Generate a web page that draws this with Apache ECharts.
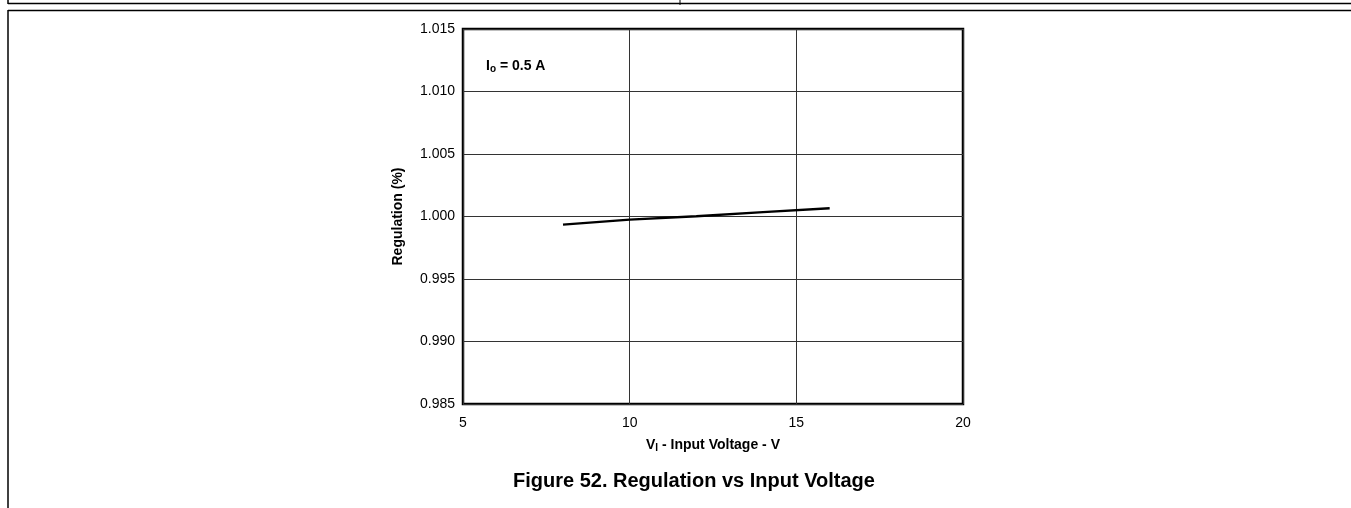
<!DOCTYPE html>
<html>
<head>
<meta charset="utf-8">
<script src="https://cdn.jsdelivr.net/npm/echarts@6/dist/echarts.min.js"></script>
<style>
html,body{margin:0;padding:0;background:#fff;}
#chart{width:1351px;height:508px;}
</style>
</head>
<body>
<div id="chart"></div>
<script>
// Data
const inputVoltage = [8, 10, 12, 14, 16];
const regulation = [0.99935, 0.99975, 1.00002, 1.00035, 1.00066];
const xTicks = [5, 10, 15, 20];
const yTicks = [0.985, 0.990, 0.995, 1.000, 1.005, 1.010, 1.015];

const chart = echarts.init(document.getElementById('chart'));
const font = '"Liberation Sans", Arial, sans-serif';
const seriesData = inputVoltage.map((v, i) => [v, regulation[i]]);

chart.setOption({
  animation: false,
  backgroundColor: '#fff',
  textStyle: { fontFamily: font },
  title: {
    text: 'Figure 52. Regulation vs Input Voltage',
    left: 513,
    top: 471,
    padding: 0,
    textStyle: { fontFamily: font, fontSize: 20, fontWeight: 'bold', color: '#000' }
  },
  grid: {
    left: 463, right: 388, top: 29, bottom: 104,
    show: true, borderColor: '#000', borderWidth: 2.5, backgroundColor: 'transparent'
  },
  xAxis: {
    type: 'value',
    min: xTicks[0], max: xTicks[xTicks.length - 1], interval: 5,
    axisLine: { show: false },
    axisTick: { show: false },
    axisLabel: { margin: 12, fontSize: 14, color: '#000', fontFamily: font },
    splitLine: { show: true, lineStyle: { color: '#333', width: 1 } },
    name: '{m|V}{s|I}{m| - Input Voltage - V}',
    nameLocation: 'middle',
    nameGap: 33,
    nameTextStyle: {
      rich: {
        m: { fontSize: 14, fontWeight: 'bold', color: '#000', fontFamily: font },
        s: { fontSize: 10, fontWeight: 'bold', color: '#000', fontFamily: font, verticalAlign: 'bottom', padding: [6, 0, 0, 0] }
      }
    }
  },
  yAxis: {
    type: 'value',
    min: yTicks[0], max: yTicks[yTicks.length - 1], interval: 0.005,
    axisLine: { show: false },
    axisTick: { show: false },
    axisLabel: { margin: 8, fontSize: 14, color: '#000', fontFamily: font, formatter: v => v.toFixed(3) },
    splitLine: { show: true, lineStyle: { color: '#333', width: 1 } },
    name: 'Regulation (%)',
    nameLocation: 'middle',
    nameGap: 58,
    nameTextStyle: { fontSize: 14, fontWeight: 'bold', color: '#000', fontFamily: font }
  },
  graphic: [
    { type: 'line', shape: { x1: 8, y1: 3.5, x2: 1351, y2: 3.5 }, style: { stroke: '#000', lineWidth: 1.5 } },
    { type: 'line', shape: { x1: 8, y1: 0, x2: 8, y2: 4 }, style: { stroke: '#000', lineWidth: 1.5 } },
    { type: 'line', shape: { x1: 680, y1: 0, x2: 680, y2: 5 }, style: { stroke: '#000', lineWidth: 1 } },
    { type: 'line', shape: { x1: 8, y1: 10.5, x2: 1351, y2: 10.5 }, style: { stroke: '#000', lineWidth: 1.5 } },
    { type: 'line', shape: { x1: 8, y1: 10, x2: 8, y2: 508 }, style: { stroke: '#000', lineWidth: 1.5 } },
    {
      type: 'text', left: 486, top: 59,
      style: {
        text: '{m|I}{s|o}{m| = 0.5 A}',
        rich: {
          m: { fontSize: 14, fontWeight: 'bold', fill: '#000', fontFamily: font },
          s: { fontSize: 10, fontWeight: 'bold', fill: '#000', fontFamily: font, verticalAlign: 'bottom', padding: [6, 0, 0, 0] }
        }
      }
    }
  ],
  series: [{
    type: 'line',
    data: seriesData,
    symbol: 'none',
    lineStyle: { color: '#000', width: 2.5 }
  }]
});
</script>
</body>
</html>
